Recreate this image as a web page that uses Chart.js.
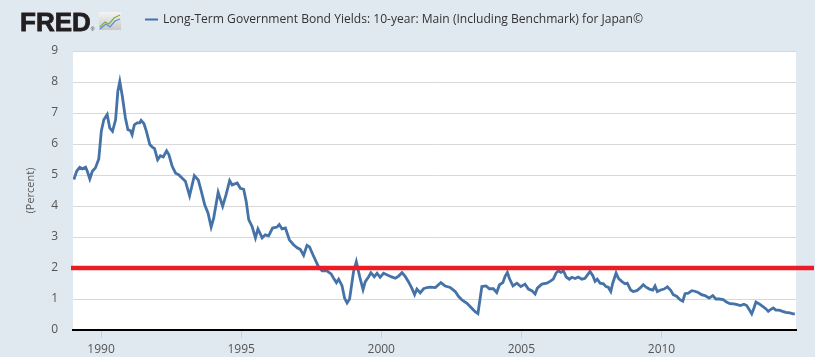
<!DOCTYPE html>
<html>
<head>
<meta charset="utf-8">
<script src="https://cdn.jsdelivr.net/npm/chart.js@4"></script>
<style>
html,body{margin:0;padding:0;background:#e1e9f0;}
#wrap{width:815px;height:357px;position:relative;}
</style>
</head>
<body>
<div id="wrap"><canvas id="c" width="815" height="357"></canvas></div>
<script>
// Decimal year of each reading
const years = [
1989.03,1989.13,1989.24,1989.33,1989.45,1989.51,1989.60,1989.69,1989.80,1989.92,
1990.01,1990.10,1990.22,1990.31,1990.41,1990.52,1990.60,1990.67,1990.76,1990.87,1990.96,
1991.05,1991.11,1991.19,1991.29,1991.38,1991.43,1991.53,1991.62,1991.74,1991.83,1991.91,
1992.02,1992.12,1992.22,1992.34,1992.42,1992.54,1992.66,1992.77,1992.89,
1993.01,1993.16,1993.33,1993.47,1993.58,1993.70,1993.82,1993.93,
1994.02,1994.18,1994.34,1994.46,1994.59,1994.68,1994.86,1994.97,
1995.09,1995.18,1995.27,1995.39,1995.51,1995.60,1995.75,1995.86,1995.98,
1996.12,1996.28,1996.36,1996.46,1996.58,1996.72,1996.87,
1997.00,1997.11,1997.23,1997.35,1997.44,1997.57,1997.68,1997.77,1997.89,
1998.06,1998.21,1998.30,1998.40,1998.48,1998.60,1998.69,1998.78,1998.87,
1999.01,1999.11,1999.23,1999.35,1999.43,1999.55,1999.63,1999.75,1999.85,1999.96,
2000.08,2000.20,2000.35,2000.50,2000.62,2000.74,2000.86,2000.97,
2001.09,2001.19,2001.27,2001.39,2001.51,2001.63,2001.75,2001.93,
2002.13,2002.28,2002.46,2002.64,2002.76,2002.88,
2003.06,2003.23,2003.35,2003.45,2003.59,2003.74,2003.86,
2004.00,2004.12,2004.22,2004.34,2004.42,2004.50,2004.57,2004.70,2004.84,2004.98,
2005.13,2005.25,2005.37,2005.49,2005.57,2005.73,2005.91,
2006.02,2006.14,2006.24,2006.32,2006.41,2006.50,2006.60,2006.71,2006.80,2006.92,
2007.03,2007.16,2007.27,2007.36,2007.45,2007.55,2007.63,2007.71,2007.81,2007.93,
2008.02,2008.10,2008.19,2008.26,2008.38,2008.46,2008.58,2008.70,2008.78,2008.90,2008.99,
2009.12,2009.23,2009.35,2009.45,2009.57,2009.69,2009.77,2009.85,2009.97,
2010.09,2010.21,2010.33,2010.42,2010.54,2010.66,2010.76,2010.84,2010.96,
2011.08,2011.19,2011.31,2011.43,2011.55,2011.70,2011.83,2011.94,
2012.06,2012.20,2012.32,2012.44,2012.58,2012.70,2012.82,2012.94,
2013.04,2013.13,2013.22,2013.30,2013.37,2013.49,2013.61,2013.73,2013.81,2013.89,2013.99,
2014.08,2014.20,2014.32,2014.44,2014.58,2014.70,2014.76
];
// 10-year JGB yield, percent
const yields = [
4.85,5.12,5.25,5.20,5.25,5.12,4.87,5.12,5.23,5.52,
6.41,6.78,6.95,6.52,6.41,6.78,7.70,8.02,7.54,6.84,6.46,
6.43,6.30,6.62,6.68,6.68,6.76,6.66,6.41,5.98,5.90,5.85,
5.49,5.62,5.58,5.78,5.66,5.28,5.06,5.01,4.90,
4.80,4.33,4.98,4.84,4.47,4.04,3.77,3.32,
3.61,4.44,3.99,4.36,4.82,4.68,4.74,4.57,
4.54,4.15,3.56,3.34,2.97,3.26,2.97,3.07,3.04,
3.29,3.32,3.40,3.26,3.29,2.91,2.75,
2.65,2.60,2.41,2.73,2.68,2.41,2.20,2.02,1.91,
1.91,1.81,1.67,1.53,1.64,1.43,1.03,0.87,1.00,
1.88,2.20,1.72,1.30,1.56,1.72,1.85,1.72,1.83,1.70,
1.83,1.78,1.72,1.67,1.74,1.85,1.72,1.56,
1.35,1.14,1.32,1.20,1.33,1.37,1.38,1.37,
1.53,1.42,1.37,1.24,1.08,0.97,
0.86,0.70,0.59,0.53,1.40,1.42,1.33,
1.33,1.21,1.46,1.53,1.73,1.86,1.67,1.42,1.51,1.40,
1.48,1.32,1.27,1.16,1.35,1.48,1.51,
1.57,1.64,1.84,1.91,1.86,1.91,1.71,1.64,1.70,1.66,
1.71,1.64,1.67,1.78,1.89,1.75,1.57,1.64,1.51,1.49,
1.40,1.38,1.24,1.51,1.84,1.67,1.57,1.49,1.51,1.29,1.24,
1.27,1.35,1.46,1.38,1.32,1.29,1.42,1.24,1.29,
1.32,1.39,1.28,1.14,1.09,0.98,0.93,1.17,1.19,
1.27,1.25,1.21,1.14,1.11,1.03,1.11,1.00,
1.00,0.98,0.90,0.85,0.84,0.82,0.79,0.83,
0.79,0.66,0.52,0.71,0.90,0.84,0.76,0.68,0.60,0.66,0.71,
0.64,0.64,0.60,0.57,0.55,0.52,0.52
];
const xTickYears = [1990, 1995, 2000, 2005, 2010];
const yTicks = [0,1,2,3,4,5,6,7,8,9];
const referenceLevel = 2;
const seriesName = "Long-Term Government Bond Yields: 10-year: Main (Including Benchmark) for Japan\u00A9";

const BG = '#e1e9f0';
const LINE = '#4572a7';

const bgPlugin = {
  id: 'bg',
  beforeDraw(chart) {
    const {ctx, chartArea: a} = chart;
    ctx.save();
    ctx.fillStyle = BG;
    ctx.fillRect(0, 0, chart.width, chart.height);
    ctx.fillStyle = '#ffffff';
    ctx.fillRect(a.left, a.top, a.right - a.left, a.bottom - a.top);
    ctx.restore();
  }
};

const refLinePlugin = {
  id: 'refLine',
  afterDatasetsDraw(chart) {
    const {ctx, chartArea: a, scales: {y}} = chart;
    const py = y.getPixelForValue(referenceLevel);
    ctx.save();
    ctx.strokeStyle = '#ed1c24';
    ctx.lineWidth = 4.5;
    ctx.beginPath();
    ctx.moveTo(a.left - 2, py);
    ctx.lineTo(chart.width - 1, py);
    ctx.stroke();
    ctx.restore();
  }
};

const headerPlugin = {
  id: 'header',
  afterDraw(chart) {
    const ctx = chart.ctx;
    ctx.save();
    // FRED logo text
    ctx.fillStyle = '#231f20';
    ctx.font = 'bold 26px "Liberation Sans", Arial, sans-serif';
    ctx.textBaseline = 'alphabetic';
    ctx.textAlign = 'left';
    ctx.fillText('FRED', 20, 31);
    ctx.lineWidth = 0.8;
    ctx.strokeStyle = '#231f20';
    ctx.strokeText('FRED', 20, 31);
    const w = ctx.measureText('FRED').width;
    ctx.font = '5px "Liberation Sans", sans-serif';
    ctx.fillText('\u00AE', 20 + w, 31);
    // small chart icon
    const ix = 99, iy = 12, iw = 22, ih = 18;
    const g = ctx.createLinearGradient(ix, iy, ix, iy + ih);
    g.addColorStop(0, '#f4f4f4');
    g.addColorStop(1, '#c9c9c9');
    ctx.fillStyle = g;
    ctx.fillRect(ix, iy, iw, ih);
    ctx.lineWidth = 1.2;
    ctx.strokeStyle = '#7fb04a';
    ctx.beginPath();
    ctx.moveTo(ix + 1, iy + 15); ctx.lineTo(ix + 6, iy + 10); ctx.lineTo(ix + 10, iy + 12);
    ctx.lineTo(ix + 15, iy + 6); ctx.lineTo(ix + 21, iy + 3);
    ctx.stroke();
    ctx.strokeStyle = '#5b8fc7';
    ctx.beginPath();
    ctx.moveTo(ix + 1, iy + 17); ctx.lineTo(ix + 7, iy + 12); ctx.lineTo(ix + 11, iy + 15);
    ctx.lineTo(ix + 16, iy + 9); ctx.lineTo(ix + 21, iy + 7);
    ctx.stroke();
    // legend
    ctx.strokeStyle = LINE;
    ctx.lineWidth = 2;
    ctx.beginPath();
    ctx.moveTo(145, 19.5); ctx.lineTo(158, 19.5);
    ctx.stroke();
    let fs = 13;
    ctx.font = fs + 'px "Open Sans", sans-serif';
    const tw = ctx.measureText(seriesName).width;
    fs = fs * 480 / tw;
    ctx.font = fs.toFixed(2) + 'px "Open Sans", sans-serif';
    ctx.fillStyle = '#333333';
    ctx.textBaseline = 'middle';
    ctx.fillText(seriesName, 163, 20);
    ctx.restore();
  }
};

new Chart(document.getElementById('c'), {
  type: 'line',
  data: {
    datasets: [{
      label: seriesName,
      data: years.map((yr, i) => ({x: yr, y: yields[i]})),
      borderColor: LINE,
      borderWidth: 2.8,
      pointRadius: 0,
      tension: 0,
      fill: false
    }]
  },
  options: {
    responsive: false,
    animation: false,
    devicePixelRatio: 1,
    layout: {padding: {top: 51, right: 19, bottom: 0, left: 0}},
    plugins: {legend: {display: false}, tooltip: {enabled: false}},
    scales: {
      x: {
        type: 'linear',
        min: 1989.0,
        max: 2014.8,
        afterBuildTicks: s => { s.ticks = xTickYears.map(v => ({value: v})); },
        afterFit: s => { s.height = 27; },
        ticks: {
          callback: v => String(v),
          color: '#555555',
          font: {family: '"Open Sans", sans-serif', size: 12},
          padding: 4,
          maxRotation: 0,
          autoSkip: false
        },
        grid: {drawOnChartArea: false, drawTicks: true, tickLength: 8, color: '#c2d0df', lineWidth: 1},
        border: {display: true, color: '#000000', width: 2}
      },
      y: {
        min: 0,
        max: 9,
        afterBuildTicks: s => { s.ticks = yTicks.map(v => ({value: v})); },
        afterFit: s => { s.width = 73; },
        ticks: {
          color: '#555555',
          font: {family: '"Open Sans", sans-serif', size: 12},
          padding: 15
        },
        grid: {color: '#d8d8d8', lineWidth: 1, drawTicks: false},
        border: {display: false},
        title: {
          display: true,
          text: '(Percent)',
          color: '#555555',
          font: {family: '"Open Sans", sans-serif', size: 11},
          padding: {top: 24, bottom: 0}
        }
      }
    }
  },
  plugins: [bgPlugin, refLinePlugin, headerPlugin]
});
</script>
</body>
</html>
